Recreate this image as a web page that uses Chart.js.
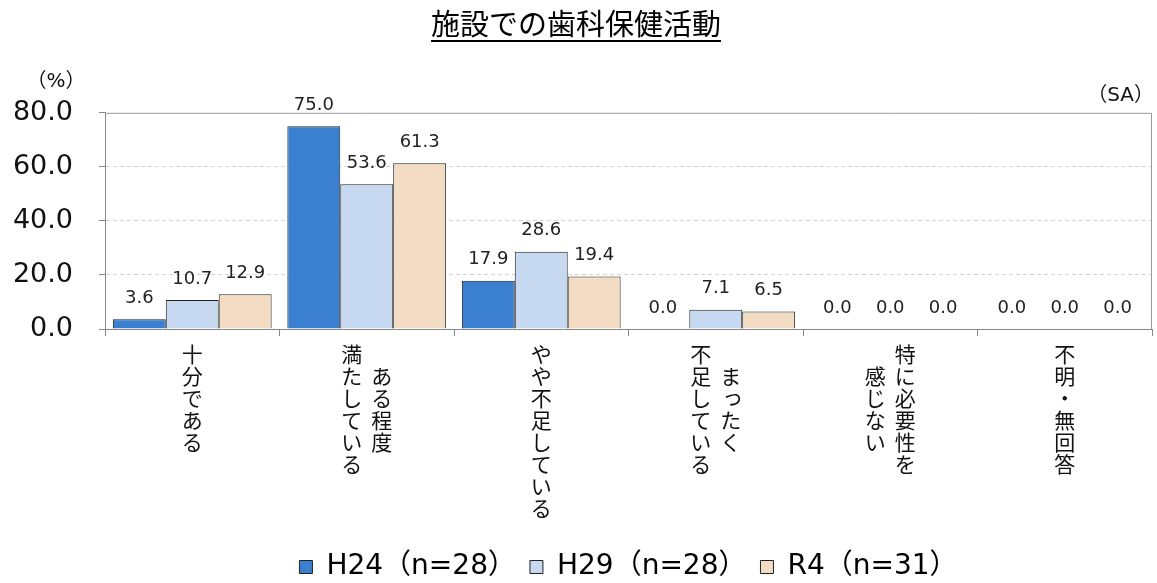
<!DOCTYPE html>
<html lang="ja">
<head>
<meta charset="utf-8">
<script src="https://cdn.jsdelivr.net/npm/chart.js@4"></script>
<style>
  html, body { margin: 0; padding: 0; background: #fff; }
  #wrap { width: 1157px; height: 583px; }
</style>
</head>
<body>
<div id="wrap"><canvas id="shika"></canvas></div>
<script>
// 縦書きラベル（右の列から順に）
const categories = [
  ["十分である"],
  ["ある程度", "満たしている"],
  ["やや不足している"],
  ["まったく", "不足している"],
  ["特に必要性を", "感じない"],
  ["不明・無回答"],
];
const seriesNames = ["H24（n=28）", "H29（n=28）", "R4（n=31）"];
const h24 = [3.6, 75.0, 17.9, 0.0, 0.0, 0.0];
const h29 = [10.7, 53.6, 28.6, 7.1, 0.0, 0.0];
const r4 = [12.9, 61.3, 19.4, 6.5, 0.0, 0.0];
const yTicks = [0, 20, 40, 60, 80];

const JP = "'Noto Sans CJK JP', sans-serif";
const LAT = "'DejaVu Sans', 'Noto Sans CJK JP', sans-serif";

// 数値ラベル
const valueLabels = {
  id: "valueLabels",
  afterDatasetsDraw(chart) {
    const ctx = chart.ctx;
    ctx.save();
    ctx.font = "18px " + LAT;
    ctx.fillStyle = "#222";
    ctx.textAlign = "center";
    ctx.textBaseline = "bottom";
    chart.data.datasets.forEach((ds, i) => {
      chart.getDatasetMeta(i).data.forEach((bar, j) => {
        ctx.fillText(ds.data[j].toFixed(1), bar.x, bar.y - 12);
      });
    });
    ctx.restore();
  },
};

// 縦書きのカテゴリ名、（%）（SA）、枠線、タイトル下線
const extras = {
  id: "extras",
  afterDraw(chart) {
    const ctx = chart.ctx;
    const x = chart.scales.x;
    const area = chart.chartArea;
    ctx.save();

    // プロットエリアの上と右の枠
    ctx.strokeStyle = "#999";
    ctx.lineWidth = 1;
    ctx.beginPath();
    ctx.moveTo(area.left, area.top + 0.5);
    ctx.lineTo(area.right - 0.5, area.top + 0.5);
    ctx.lineTo(area.right - 0.5, area.bottom);
    ctx.stroke();

    ctx.fillStyle = "#111";
    ctx.font = "21px " + JP;
    ctx.textAlign = "center";
    ctx.textBaseline = "top";
    const step = 22, colGap = 30;
    categories.forEach((cols, i) => {
      const cx = x.getPixelForValue(i);
      const maxLen = Math.max(...cols.map((c) => c.length));
      cols.forEach((col, k) => {
        const colX = cx + ((cols.length - 1) / 2) * colGap - k * colGap;
        let y = area.bottom + 15 + ((maxLen - col.length) * step) / 2;
        for (const ch of col) {
          if (ch === "っ") ctx.fillText(ch, colX + 2, y - 2);
          else ctx.fillText(ch, colX, y);
          y += step;
        }
      });
    });

    ctx.font = "20px " + LAT;
    ctx.textBaseline = "middle";
    ctx.textAlign = "center";
    ctx.fillText("（%）", 56, 82);
    ctx.textAlign = "right";
    ctx.fillText("（SA）", 1154, 96);

    const t = chart.titleBlock;
    ctx.font = "29px " + JP;
    const w = ctx.measureText(chart.options.plugins.title.text).width;
    const mid = (t.left + t.right) / 2;
    ctx.fillStyle = "#000";
    ctx.fillRect(mid - w / 2, 40, w, 2);
    ctx.restore();
  },
};

new Chart(document.getElementById("shika"), {
  type: "bar",
  data: {
    labels: categories.map((c) => c.join("")),
    datasets: [
      { label: seriesNames[0], data: h24, backgroundColor: "#3a7fd0" },
      { label: seriesNames[1], data: h29, backgroundColor: "#c6d9f0" },
      { label: seriesNames[2], data: r4, backgroundColor: "#f2dcc3" },
    ].map((d) => ({ ...d, borderColor: "#222", borderWidth: 1, barPercentage: 1, categoryPercentage: 0.91 })),
  },
  options: {
    responsive: true,
    maintainAspectRatio: false,
    animation: false,
    layout: { padding: { left: 0, right: 5, top: 0, bottom: -8 } },
    plugins: {
      title: {
        display: true,
        text: "施設での歯科保健活動",
        color: "#000",
        font: { family: JP, size: 29, weight: "normal" },
        padding: { top: 7, bottom: 71 },
      },
      legend: {
        position: "bottom",
        fullSize: false,
        labels: {
          color: "#000",
          font: { family: LAT, size: 28 },
          boxWidth: 13,
          boxHeight: 13,
          padding: 14,
        },
      },
      tooltip: { enabled: false },
    },
    scales: {
      x: {
        grid: {
          offset: true,
          drawOnChartArea: false,
          tickLength: 7,
          color: "#888",
        },
        border: { color: "#888" },
        ticks: { callback: () => "" },
        afterFit(scale) {
          scale.height = 210;
        },
      },
      y: {
        min: 0,
        max: 80,
        afterBuildTicks(scale) {
          scale.ticks = yTicks.map((v) => ({ value: v }));
        },
        grid: {
          color: (c) => (c.tick && c.tick.value === 80 ? "rgba(0,0,0,0)" : "#d4d4d4"),
          tickColor: "#888",
          tickLength: 6,
          tickBorderDash: [],
        },
        border: { color: "#888", dash: [4, 3] },
        ticks: {
          color: "#111",
          font: { family: LAT, size: 27 },
          padding: 26,
          callback: (v) => Number(v).toFixed(1),
        },
        afterFit(scale) {
          scale.width = 105;
        },
      },
    },
  },
  plugins: [valueLabels, extras],
});
</script>
</body>
</html>
